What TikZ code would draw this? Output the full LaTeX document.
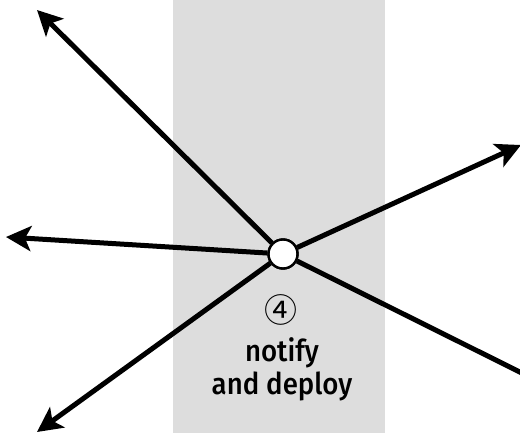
\documentclass[tikz,border=0pt]{standalone}
\usepackage{fontspec}
\newfontfamily\labelfont{Fira Sans Medium}
\newfontfamily\symfont{Noto Sans CJK SC}
\usetikzlibrary{arrows.meta, positioning}
\definecolor{BandGray}{HTML}{DDDDDD}
\tikzset{
  % Node styles
  hubnode/.style={circle, draw=black, fill=white, line width=2.4pt, minimum size=29pt, inner sep=0pt},
  labelnode/.style={font=\labelfont\fontsize{30}{33}\selectfont, align=center, inner sep=0pt, xscale=0.92, transform shape},
  % Arrow styles
  spoke/.style={line width=5pt, -{Stealth[length=25pt, width=25pt, inset=6pt]}}
}
\begin{document}
\begin{tikzpicture}[x=1pt, y=-1pt]
  \useasboundingbox (0,0) rectangle (520,433);
  \clip (0,0) rectangle (520,433);

  % Band
  \fill[BandGray] (173,0) rectangle (385,433);

  % Free ends
  \coordinate (nw) at (37,10);
  \coordinate (w) at (6,237);
  \coordinate (sw) at (37,432);
  \coordinate (ne) at (521,145);
  \coordinate (se) at (580,402);

  % Spokes
  \node[hubnode] (hub) at (283,254) {};
  \draw[spoke] (hub) -- (nw);
  \draw[spoke] (hub) -- (w);
  \draw[spoke] (hub) -- (sw);
  \draw[spoke] (hub) -- (ne);
  \draw[spoke] (hub) -- (se);
  \node[hubnode] at (hub) {};

  % Labels
  \node[font=\symfont\fontsize{33}{36}\selectfont, inner sep=0pt] (step) at (281,310) {④};
  \node[labelnode, anchor=base] (name) at (282,394) {notify\\and deploy};
\end{tikzpicture}
\end{document}
